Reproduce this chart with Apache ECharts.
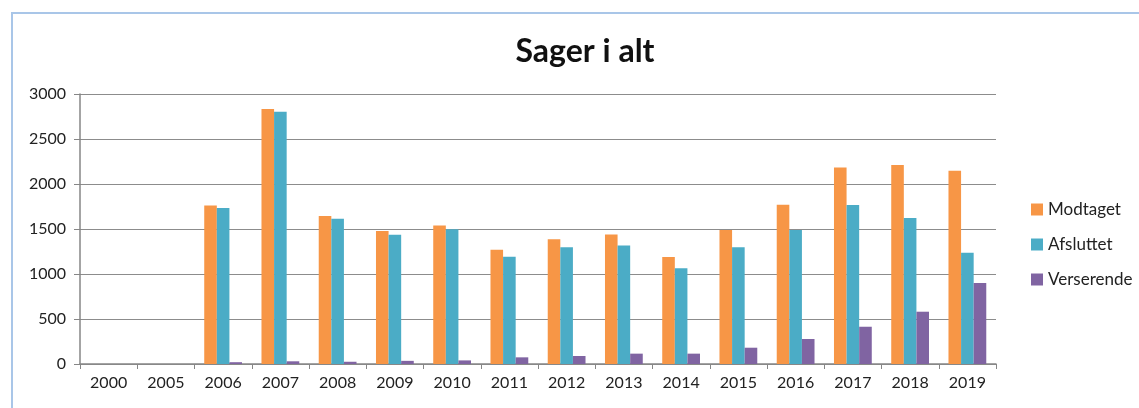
<!DOCTYPE html>
<html>
<head>
<meta charset="utf-8">
<script src="https://cdn.jsdelivr.net/npm/echarts@6/dist/echarts.min.js"></script>
<style>
  html, body { margin: 0; padding: 0; background: #fff; }
  #Chart { width: 1139px; height: 408px; }
</style>
</head>
<body>
<div id="Chart"></div>
<script>
  // aar og tal
  var years = ['2000', '2005', '2006', '2007', '2008', '2009', '2010', '2011', '2012',
               '2013', '2014', '2015', '2016', '2017', '2018', '2019']
  var modtaget = [0, 0, 1762, 2833, 1644, 1478, 1540, 1270, 1385, 1440, 1189, 1489, 1770, 2184, 2211, 2148]
  var afsluttet = [0, 0, 1733, 2803, 1614, 1437, 1496, 1192, 1296, 1318, 1063, 1296, 1489, 1766, 1622, 1237]
  var verserende = [0, 0, 20, 30, 25, 35, 40, 74, 89, 115, 115, 181, 278, 414, 581, 900]
  var yTicks = [0, 500, 1000, 1500, 2000, 2500, 3000]

  var font = 'Lato, "Open Sans", sans-serif'
  var Chart = echarts.init(document.getElementById('Chart'))

  Chart.setOption({
    animation: false,
    textStyle: { fontFamily: font },
    graphic: [{
      type: 'rect',
      shape: { x: 12, y: 13, width: 1200, height: 500 },
      style: { fill: 'none', stroke: '#a9c6e8', lineWidth: 2 },
      silent: true
    }],
    title: {
      text: 'Sager i alt',
      left: 580,
      top: 31,
      textAlign: 'center',
      textStyle: { fontSize: 32, fontWeight: 'bold', color: '#111', fontFamily: font }
    },
    legend: {
      orient: 'vertical',
      left: 1026,
      top: 196,
      itemWidth: 12,
      itemHeight: 12,
      itemGap: 18,
      icon: 'rect',
      textStyle: { fontSize: 17, color: '#222', fontFamily: font },
      data: ['Modtaget', 'Afsluttet', 'Verserende']
    },
    grid: { left: 80, right: 143, top: 94, bottom: 44 },
    xAxis: {
      type: 'category',
      data: years,
      axisLine: { lineStyle: { color: '#868686', width: 1.5 } },
      axisTick: { show: true, length: 5, lineStyle: { color: '#868686' } },
      axisLabel: { fontSize: 16, color: '#222', margin: 11 }
    },
    yAxis: {
      type: 'value',
      min: yTicks[0],
      max: yTicks[yTicks.length - 1],
      interval: 500,
      axisLine: { show: true, lineStyle: { color: '#868686', width: 1.5 } },
      axisTick: { show: true, length: 6, lineStyle: { color: '#868686' } },
      axisLabel: { fontSize: 16, color: '#222', margin: 14, formatter: function (v) { return String(v) } },
      splitLine: { lineStyle: { color: '#8c8c8c', width: 1.2 } }
    },
    series: [{
      name: 'Modtaget',
      type: 'bar',
      data: modtaget,
      barGap: '0%',
      barCategoryGap: '34%',
      itemStyle: { color: '#f79646' }
    }, {
      name: 'Afsluttet',
      type: 'bar',
      data: afsluttet,
      itemStyle: { color: '#4bacc6' }
    }, {
      name: 'Verserende',
      type: 'bar',
      data: verserende,
      itemStyle: { color: '#8064a2' }
    }]
  })
</script>
</body>
</html>
